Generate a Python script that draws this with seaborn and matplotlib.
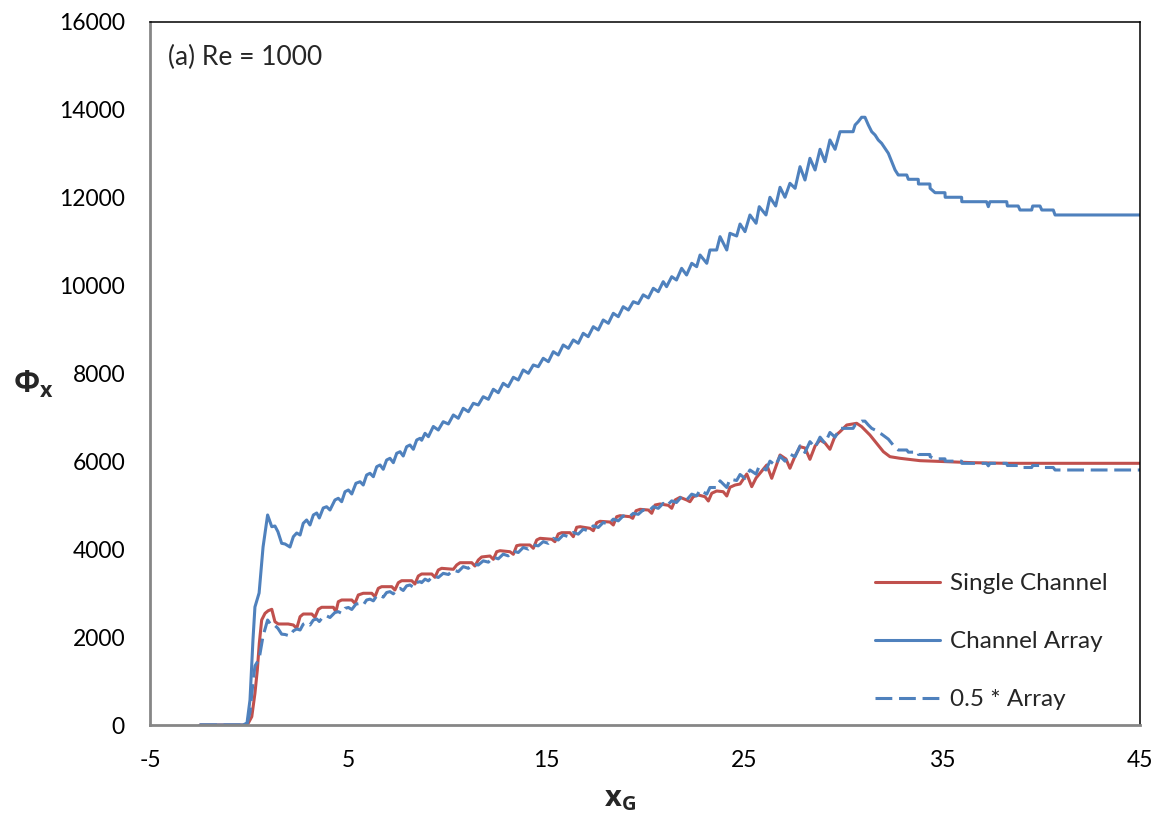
import numpy as np
import pandas as pd
import matplotlib
matplotlib.use("Agg")
import matplotlib.pyplot as plt
import seaborn as sns

# ---- data -------------------------------------------------------------
# Channel array: flux Phi_x along the channel coordinate x_G
array_x = [
    -2.47, -0.30, -0.10, 0.05, 0.20, 0.30, 0.51, 0.61, 0.71, 0.94,
    1.15, 1.31, 1.46, 1.65, 1.82, 2.07, 2.24, 2.41, 2.58,
    2.74, 2.91, 3.08, 3.25, 3.42, 3.55, 3.75, 3.92, 4.09,
    4.34, 4.51, 4.68, 4.85, 5.02, 5.19, 5.40, 5.61, 5.77,
    5.94, 6.11, 6.28, 6.45, 6.62, 6.78, 6.95, 7.12, 7.29,
    7.46, 7.63, 7.79, 7.96, 8.13, 8.30, 8.47, 8.64, 8.72,
    8.89, 9.06, 9.31, 9.56, 9.81, 10.07, 10.32, 10.57, 10.82, 11.08,
    11.33, 11.58, 11.83, 12.09, 12.34, 12.59, 12.84, 13.09, 13.35, 13.60,
    13.85, 14.11, 14.36, 14.61, 14.86, 15.12, 15.37, 15.62, 15.87, 16.13,
    16.38, 16.63, 16.88, 17.13, 17.39, 17.64, 17.89, 18.15, 18.40, 18.65,
    18.90, 19.16, 19.41, 19.66, 19.91, 20.17, 20.42, 20.67, 20.92, 21.09,
    21.35, 21.59, 21.85, 22.10, 22.36, 22.61, 22.78, 23.12, 23.28, 23.62,
    23.79, 24.13, 24.29, 24.63, 24.80, 25.05, 25.30, 25.61, 25.77, 26.11,
    26.31, 26.60, 26.82, 27.07, 27.32, 27.58, 27.83, 28.08, 28.33, 28.59,
    28.84, 29.09, 29.34, 29.60, 29.85, 30.51, 30.61, 30.77, 30.94, 31.11,
    31.28, 31.45, 31.62, 31.78, 31.95, 32.12, 32.29, 32.46, 32.63, 32.79,
    33.22, 33.30, 33.80, 33.81, 34.39, 34.40, 34.65, 35.15, 35.16, 35.99,
    36.00, 37.25, 37.34, 37.42, 38.27, 38.30, 38.85, 38.94, 39.53, 39.58,
    39.95, 40.04, 40.62, 40.71, 45.00,
]
array_y = [
    0, 0, 46, 569, 1935, 2686, 3004, 3528, 4051, 4780,
    4513, 4529, 4400, 4135, 4120, 4051, 4286, 4370, 4324,
    4591, 4666, 4552, 4780, 4825, 4711, 4939, 4968, 4893,
    5121, 5160, 5082, 5310, 5349, 5258, 5501, 5537, 5462,
    5690, 5729, 5651, 5879, 5918, 5820, 6031, 6070, 5970,
    6184, 6220, 6122, 6334, 6373, 6275, 6487, 6525, 6480,
    6639, 6562, 6794, 6714, 6903, 6851, 7056, 6981, 7208, 7131,
    7322, 7283, 7472, 7413, 7641, 7563, 7777, 7700, 7914, 7852,
    8080, 8005, 8194, 8155, 8346, 8269, 8496, 8421, 8649, 8573,
    8763, 8688, 8915, 8838, 9065, 8990, 9218, 9143, 9370, 9293,
    9520, 9445, 9634, 9590, 9790, 9720, 9939, 9862, 10090, 9976,
    10203, 10128, 10394, 10242, 10508, 10431, 10697, 10508, 10811, 10811,
    11114, 10811, 11191, 11130, 11403, 11228, 11608, 11419, 11797, 11608,
    12011, 11812, 12238, 12011, 12329, 12215, 12707, 12404, 12898, 12632,
    13103, 12821, 13315, 13103, 13503, 13503, 13656, 13732, 13832, 13832,
    13656, 13503, 13428, 13315, 13240, 13126, 13012, 12821, 12632, 12518,
    12518, 12420, 12420, 12313, 12313, 12215, 12115, 12115, 12011, 12011,
    11910, 11910, 11797, 11910, 11910, 11812, 11812, 11721, 11721, 11812,
    11812, 11721, 11721, 11608, 11608,
]

# Single channel: flux Phi_x along x_G
single_x = [
    -2.47, -0.20, -0.04, 0.14, 0.30, 0.42, 0.52, 0.64, 0.81, 0.97,
    1.15, 1.31, 1.48, 1.98, 2.24, 2.41, 2.58, 2.74, 3.17, 3.33,
    3.50, 3.67, 4.26, 4.39, 4.51, 4.68, 5.19, 5.35, 5.52, 5.77,
    6.20, 6.36, 6.53, 6.70, 7.21, 7.37, 7.54, 7.71, 8.22, 8.38,
    8.55, 8.72, 9.23, 9.39, 9.56, 9.73, 10.32, 10.49, 10.66, 11.25,
    11.41, 11.58, 11.75, 12.17, 12.34, 12.51, 12.68, 13.18, 13.35, 13.52,
    13.69, 14.19, 14.36, 14.53, 14.70, 15.29, 15.45, 15.62, 15.79, 16.21,
    16.38, 16.55, 16.72, 17.22, 17.39, 17.56, 17.73, 18.23, 18.40, 18.57,
    18.74, 19.24, 19.38, 19.55, 19.75, 20.17, 20.34, 20.51, 20.76, 21.18,
    21.35, 21.52, 21.77, 22.11, 22.27, 22.44, 22.69, 23.03, 23.20, 23.37,
    23.62, 23.95, 24.13, 24.29, 24.55, 24.80, 25.14, 25.39, 25.61, 26.15,
    26.40, 26.62, 26.82, 27.12, 27.32, 27.58, 27.83, 28.08, 28.33, 28.59,
    28.84, 29.09, 29.34, 29.60, 29.85, 30.19, 30.69, 30.94, 31.36, 31.70,
    32.04, 32.37, 32.88, 33.89, 35.24, 36.58, 38.27, 45.00,
]
single_y = [
    0, 0, 39, 189, 721, 1252, 1859, 2390, 2542, 2601,
    2633, 2351, 2299, 2299, 2276, 2201, 2465, 2526, 2526, 2451,
    2633, 2679, 2679, 2579, 2806, 2845, 2845, 2770, 2959, 2998,
    2998, 2920, 3111, 3148, 3148, 3073, 3239, 3284, 3284, 3209,
    3391, 3437, 3437, 3362, 3528, 3566, 3544, 3642, 3694, 3694,
    3619, 3755, 3824, 3846, 3771, 3944, 3967, 3944, 3885, 4081,
    4097, 4097, 4022, 4211, 4249, 4227, 4172, 4347, 4377, 4377,
    4286, 4500, 4513, 4477, 4422, 4604, 4636, 4620, 4552, 4741,
    4764, 4741, 4704, 4877, 4909, 4893, 4818, 5007, 5030, 5000,
    4932, 5121, 5182, 5121, 5082, 5196, 5235, 5196, 5098, 5274,
    5326, 5310, 5212, 5410, 5462, 5485, 5713, 5424, 5622, 5918,
    5615, 5895, 6145, 6054, 5843, 6122, 6334, 6305, 6047, 6350,
    6487, 6418, 6275, 6578, 6676, 6828, 6867, 6791, 6600, 6412,
    6220, 6107, 6070, 6016, 5993, 5970, 5956, 5956,
]

half_factor = 0.5
labels = ["Single Channel", "Channel Array", "0.5 * Array"]
x_ticks = [-5, 5, 15, 25, 35, 45]
y_ticks = [0, 2000, 4000, 6000, 8000, 10000, 12000, 14000, 16000]

red = "#C0504D"
blue = "#4F81BD"

# ---- style -------------------------------------------------------------
sns.set_theme(style="white")
plt.rcParams["font.family"] = ["Lato", "DejaVu Sans"]
plt.rcParams["mathtext.fontset"] = "custom"
plt.rcParams["mathtext.rm"] = "Open Sans"
plt.rcParams["mathtext.bf"] = "Open Sans:bold"

fig = plt.figure(figsize=(11.63, 8.19), dpi=100)
ax = fig.add_axes([150 / 1163, 94 / 819, 990 / 1163, 703 / 819])

single_df = pd.DataFrame({"x": single_x, "y": single_y})
array_df = pd.DataFrame({"x": array_x, "y": array_y})
half_df = pd.DataFrame({"x": array_x, "y": np.array(array_y) * half_factor})

sns.lineplot(data=single_df, x="x", y="y", ax=ax, sort=False, estimator=None,
             color=red, lw=2.2, label=labels[0])
sns.lineplot(data=array_df, x="x", y="y", ax=ax, sort=False, estimator=None,
             color=blue, lw=2.2, label=labels[1])
sns.lineplot(data=half_df, x="x", y="y", ax=ax, sort=False, estimator=None,
             color=blue, lw=2.2, label=labels[2], dashes=False)
ax.lines[-1].set_dashes((5.5, 2.2))

ax.set_xlim(-5, 45)
ax.set_ylim(0, 16000)
ax.set_xticks(x_ticks)
ax.set_yticks(y_ticks)
ax.set_xticklabels([str(v) for v in x_ticks])
ax.set_yticklabels([str(v) for v in y_ticks])
ax.tick_params(axis="both", length=0, labelsize=16.5, colors="black")
ax.tick_params(axis="y", pad=18)
ax.tick_params(axis="x", pad=18)

for side in ("left", "bottom"):
    ax.spines[side].set_color("#868686")
    ax.spines[side].set_linewidth(2.0)
for side in ("top", "right"):
    ax.spines[side].set_color("black")
    ax.spines[side].set_linewidth(1.1)

ax.set_xlabel(r"$\mathbf{x_G}$", fontsize=21)
ax.set_ylabel(r"$\mathbf{\Phi_x}$", fontsize=22, rotation=0)
ax.xaxis.set_label_coords(0.475, -0.107)
ax.yaxis.set_label_coords(-0.118, 0.485)
ax.xaxis.label.set_va("center")
ax.yaxis.label.set_va("center")
ax.yaxis.label.set_ha("center")

ax.text(0.018, 0.949, "(a) Re = 1000", transform=ax.transAxes,
        fontsize=19, va="center", ha="left")

leg = ax.legend(loc="lower left", bbox_to_anchor=(0.732, 0.021), frameon=False,
                fontsize=17.5, handlelength=2.67, handletextpad=0.41,
                labelspacing=1.52, borderpad=0, borderaxespad=0)

fig.savefig("out.png", dpi=100, facecolor="white")
